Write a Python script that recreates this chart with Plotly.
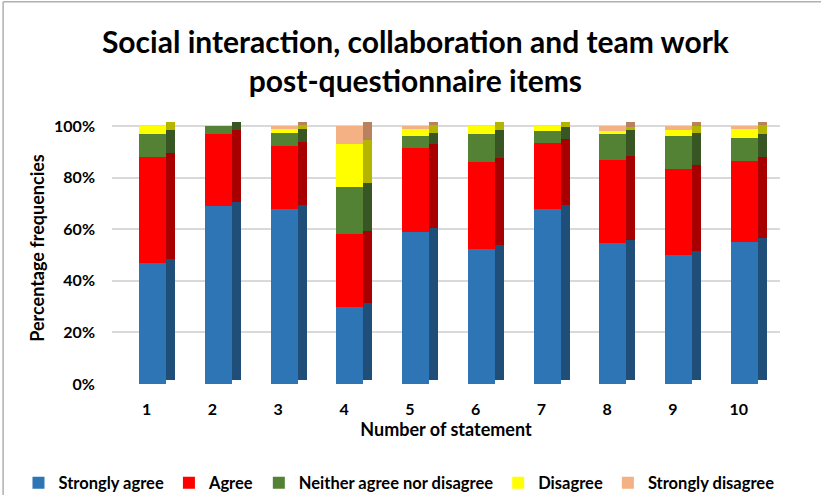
import plotly.graph_objects as go

statements = ["1", "2", "3", "4", "5", "6", "7", "8", "9", "10"]
strongly_agree = [47, 69, 68, 30, 59, 52.5, 68, 54.5, 50, 55]
agree = [41, 28, 24.5, 28, 32.5, 33.5, 25.5, 32.5, 33.5, 31.5]
neither = [9, 3, 5, 18.5, 4.5, 11, 4.5, 10, 12.5, 9]
disagree = [3, 0, 1.5, 16.5, 3, 3, 2, 1, 2.5, 3.5]
strongly_disagree = [0, 0, 1, 7, 1, 0, 0, 2, 1.5, 1]

series = [
    ("Strongly agree", strongly_agree, "#2E75B6", "#1F4E79"),
    ("Agree", agree, "#FF0000", "#A80000"),
    ("Neither agree nor disagree", neither, "#548235", "#375623"),
    ("Disagree", disagree, "#FFFF00", "#B5B500"),
    ("Strongly disagree", strongly_disagree, "#F4B183", "#B8825E"),
]

xs = list(range(1, len(statements) + 1))
fig = go.Figure()
cum = [0.0] * len(xs)
shift = 0.015
for name, vals, col, dark in series:
    frac = [v / 100 for v in vals]
    # side face (pseudo 3D)
    fig.add_trace(go.Bar(
        x=xs, y=frac, base=[c + shift for c in cum], width=0.137, offset=0.293,
        marker=dict(color=dark, line=dict(width=0)), showlegend=False, hoverinfo="skip"))
    fig.add_trace(go.Bar(
        x=xs, y=frac, base=cum, width=0.41, offset=-0.117, name=name,
        marker=dict(color=col, line=dict(width=0))))
    cum = [c + f for c, f in zip(cum, frac)]

font_family = "Lato, 'Open Sans', sans-serif"
fig.update_layout(
    width=821, height=495,
    barmode="overlay",
    paper_bgcolor="white", plot_bgcolor="white",
    margin=dict(l=112, r=41, t=112, b=111, autoexpand=False),
    title=dict(text="Social interaction, collaboration and team work<br>post-questionnaire items",
               xref="container", x=0.506, xanchor="center",
               yref="container", y=0.893, yanchor="top",
               font=dict(family=font_family, size=30, color="black", weight="bold")),
    legend=dict(orientation="h", xref="paper", yref="paper",
                x=-0.14, xanchor="left", y=-0.364, yanchor="middle",
                font=dict(family=font_family, size=16.5, color="black", weight="bold"),
                traceorder="normal", itemwidth=30),
    bargap=0,
    shapes=[
        dict(type="line", xref="paper", yref="paper", x0=-0.163, x1=1.07, y0=1.405, y1=1.405,
             line=dict(color="#B0B0B0", width=1.5)),
        dict(type="line", xref="paper", yref="paper", x0=-0.163, x1=-0.163, y0=1.405, y1=-0.41,
             line=dict(color="#B0B0B0", width=1.5)),
    ],
)
fig.update_xaxes(range=[0.4725, 10.628], tickvals=xs, ticktext=statements, showgrid=False,
                 zeroline=False, showline=False, automargin=False, ticklabelstandoff=14,
                 tickfont=dict(family=font_family, size=16, color="black", weight="bold"),
                 title=dict(text="Number of statement", standoff=6,
                            font=dict(family=font_family, size=18, color="black", weight="bold")))
fig.update_yaxes(range=[0, 1.055], tickvals=[0, 0.2, 0.4, 0.6, 0.8, 1.0],
                 tickformat=".0%", showgrid=True, gridcolor="#D9D9D9", gridwidth=2,
                 zeroline=False, showline=False, automargin=False, ticklabelstandoff=16,
                 tickfont=dict(family=font_family, size=16, color="black", weight="bold"),
                 title=dict(text="Percentage frequencies", standoff=4,
                            font=dict(family=font_family, size=18, color="black", weight="bold")))

fig.write_html("out.html", config={"displayModeBar": False},
               post_script="document.body.style.margin='0';")
